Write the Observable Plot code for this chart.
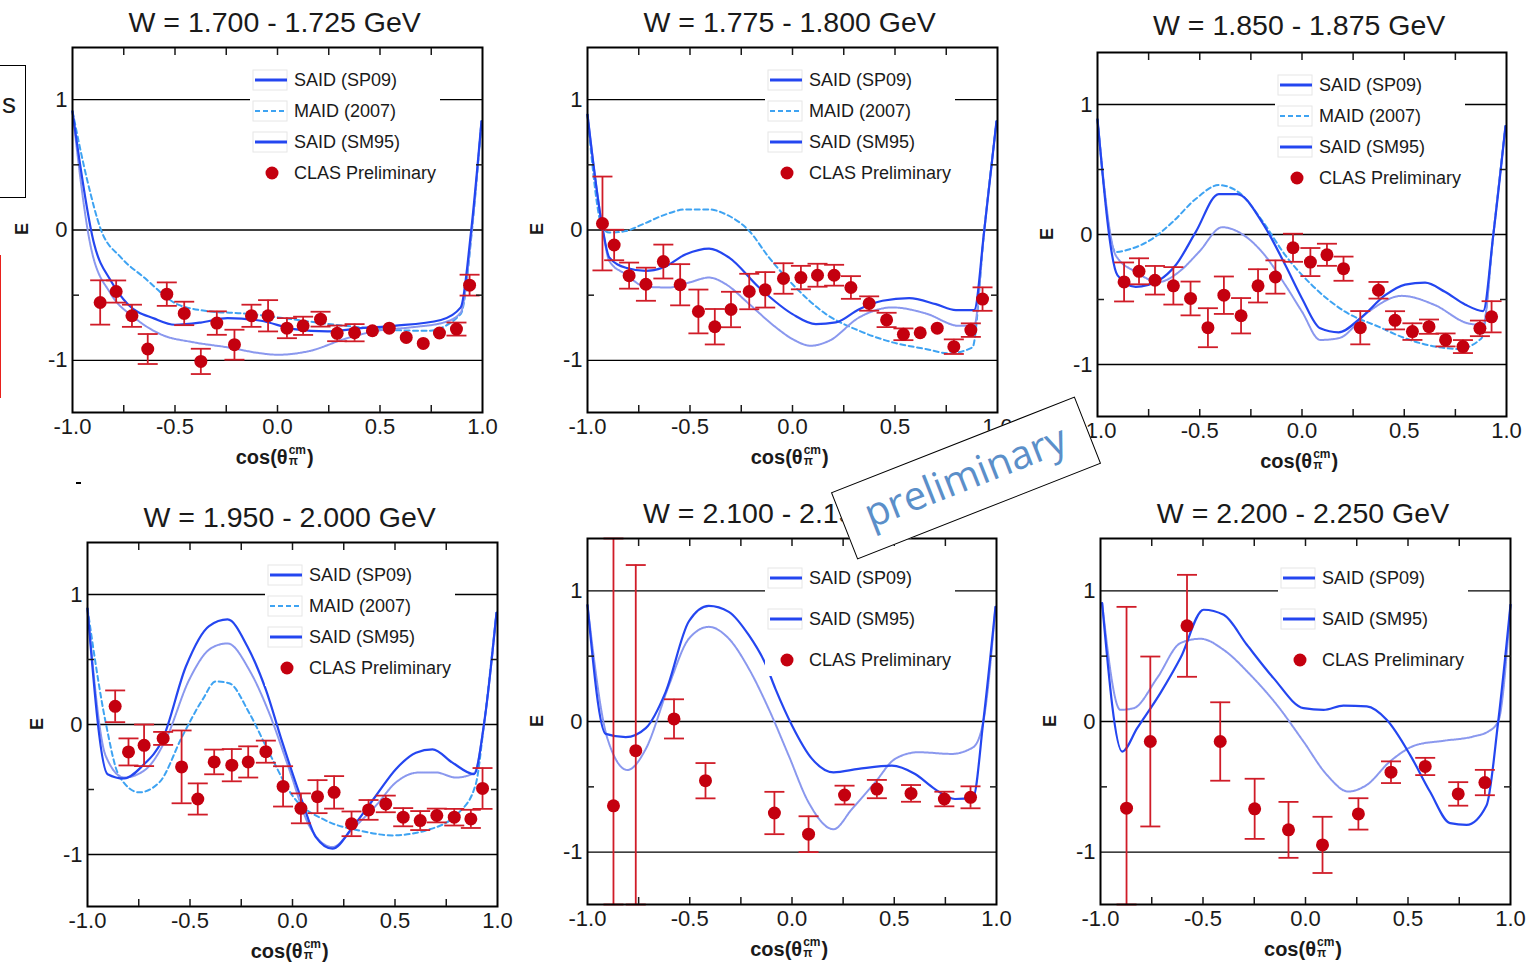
<!DOCTYPE html>
<html><head><meta charset="utf-8">
<script src="https://cdn.jsdelivr.net/npm/d3@7"></script>
<script src="https://cdn.jsdelivr.net/npm/@observablehq/plot@0.6"></script>
<style>
html,body{margin:0;padding:0;background:#fff;}
body{width:1536px;height:963px;overflow:hidden;position:relative;font-family:"Liberation Sans",Arial,sans-serif;color:#1a1a1a;}
.abs{position:absolute;}
.title{position:absolute;font-size:28.5px;white-space:nowrap;transform:translate(-50%,-50%);color:#1a1a1a;}
.elab{position:absolute;font-size:18px;font-weight:bold;transform:translate(-50%,-50%) rotate(-90deg);}
.xlab{position:absolute;font-size:20px;font-weight:bold;white-space:nowrap;transform:translate(-50%,-50%);}
.ss{display:inline-block;vertical-align:middle;line-height:0.95;font-size:12px;margin:0 1px;position:relative;top:-2px;}
.ss span{display:block;}
.stamp{position:absolute;width:262px;height:72px;border:1.5px solid #000;background:#fff;box-sizing:border-box;
  transform:translate(-50%,-50%) rotate(-21.5deg);font-family:"Open Sans",sans-serif;font-size:40px;color:#5b8fc9;
  text-align:center;line-height:64px;z-index:10;}
</style></head><body>
<script>
// ---------- data ----------
const titles = ["W = 1.700 - 1.725 GeV","W = 1.775 - 1.800 GeV","W = 1.850 - 1.875 GeV",
                "W = 1.950 - 2.000 GeV","W = 2.100 - 2.150 GeV","W = 2.200 - 2.250 GeV"];
const xTickLabels = [-1, -0.5, 0, 0.5, 1];
const yTickLabels = [-1, 0, 1];
const xMinorTicks = [-0.75, -0.5, -0.25, 0, 0.25, 0.5, 0.75];
const yMinorTicks = [-0.5, 0.5];
const legendFull = ["SAID (SP09)", "MAID (2007)", "SAID (SM95)", "CLAS Preliminary"];
const legendShort = ["SAID (SP09)", "SAID (SM95)", "CLAS Preliminary"];

// CLAS preliminary points: cos(theta), E, error
const clas1Cos = [-0.865,-0.787,-0.71,-0.633,-0.54,-0.455,-0.374,-0.296,-0.21,-0.127,-0.046,0.046,0.125,0.21,0.291,0.376,0.463,0.545,0.628,0.711,0.79,0.873,0.937];
const clas1E   = [-0.556,-0.472,-0.658,-0.913,-0.492,-0.64,-1.008,-0.714,-0.88,-0.658,-0.658,-0.753,-0.735,-0.684,-0.793,-0.788,-0.773,-0.753,-0.824,-0.87,-0.79,-0.76,-0.423];
const clas1Err = [0.17,0.085,0.085,0.115,0.09,0.09,0.097,0.09,0.115,0.085,0.12,0.077,0.07,0.057,0.06,0.066,0,0,0,0,0,0.05,0.08];

const clas2Cos = [-0.927,-0.87,-0.797,-0.715,-0.63,-0.548,-0.459,-0.379,-0.3,-0.211,-0.133,-0.044,0.041,0.122,0.203,0.285,0.374,0.459,0.541,0.623,0.706,0.787,0.87,0.927];
const clas2E   = [0.05,-0.115,-0.35,-0.416,-0.242,-0.42,-0.625,-0.742,-0.61,-0.472,-0.459,-0.372,-0.365,-0.347,-0.347,-0.441,-0.564,-0.69,-0.8,-0.788,-0.753,-0.895,-0.768,-0.53];
const clas2Err = [0.36,0.117,0.1,0.127,0.13,0.158,0.168,0.136,0.136,0.136,0.136,0.117,0.09,0.088,0.08,0.087,0.055,0.055,0.045,0,0,0.056,0.052,0.09];

const clas3Cos = [-0.87,-0.797,-0.719,-0.629,-0.545,-0.46,-0.382,-0.298,-0.215,-0.13,-0.044,0.041,0.122,0.203,0.285,0.374,0.455,0.54,0.621,0.702,0.787,0.87,0.927];
const clas3E   = [-0.365,-0.283,-0.352,-0.395,-0.492,-0.717,-0.467,-0.625,-0.395,-0.327,-0.102,-0.212,-0.156,-0.263,-0.717,-0.429,-0.66,-0.747,-0.709,-0.811,-0.862,-0.722,-0.633];
const clas3Err = [0.15,0.1,0.11,0.144,0.13,0.15,0.144,0.136,0.128,0.128,0.108,0.108,0.085,0.093,0.128,0.064,0.07,0.064,0.055,0.05,0.05,0.06,0.12];

const clas4Cos = [-0.865,-0.8,-0.724,-0.631,-0.541,-0.462,-0.382,-0.296,-0.216,-0.13,-0.046,0.041,0.122,0.203,0.288,0.371,0.455,0.54,0.623,0.704,0.789,0.87,0.927];
const clas4E   = [0.14,-0.211,-0.16,-0.107,-0.326,-0.573,-0.288,-0.313,-0.288,-0.209,-0.476,-0.645,-0.555,-0.522,-0.764,-0.657,-0.611,-0.713,-0.739,-0.7,-0.713,-0.726,-0.492];
const clas4Err = [0.122,0.104,0.16,0.05,0.28,0.12,0.095,0.124,0.12,0.085,0.155,0.115,0.127,0.125,0.095,0.076,0.064,0.07,0.073,0.053,0.064,0.07,0.157];

const clas5Cos = [-0.873,-0.764,-0.577,-0.423,-0.086,0.081,0.257,0.415,0.582,0.745,0.873];
const clas5E   = [-0.645,-0.223,0.02,-0.453,-0.7,-0.862,-0.563,-0.517,-0.55,-0.593,-0.58];
const clas5Err = [2.1,1.42,0.15,0.135,0.162,0.137,0.072,0.07,0.064,0.056,0.084];

const clas6Cos = [-0.873,-0.757,-0.578,-0.416,-0.248,-0.083,0.083,0.258,0.417,0.584,0.745,0.875];
const clas6E   = [-0.663,-0.153,0.732,-0.153,-0.668,-0.829,-0.944,-0.707,-0.388,-0.344,-0.554,-0.467];
const clas6Err = [1.54,0.65,0.39,0.3,0.23,0.214,0.215,0.12,0.083,0.066,0.09,0.097];

// model curves [cos, E]
const sp09_1 = [[-1,0.91],[-0.894,-0.11],[-0.813,-0.39],[-0.73,-0.57],[-0.6,-0.68],[-0.5,-0.727],[-0.374,-0.71],[-0.244,-0.676],[-0.081,-0.696],[0.081,-0.76],[0.244,-0.778],[0.407,-0.753],[0.569,-0.735],[0.797,-0.69],[0.894,-0.594],[0.943,-0.03],[0.995,0.834]];
const maid_1 = [[-1,0.91],[-0.927,0.375],[-0.862,0.005],[-0.764,-0.21],[-0.65,-0.365],[-0.488,-0.57],[-0.325,-0.625],[-0.163,-0.64],[0,-0.67],[0.244,-0.72],[0.407,-0.747],[0.569,-0.768],[0.732,-0.773],[0.894,-0.645],[0.95,0.018],[0.995,0.834]];
const sm95_1 = [[-1,0.91],[-0.91,-0.135],[-0.813,-0.49],[-0.7,-0.67],[-0.57,-0.8],[-0.407,-0.862],[-0.244,-0.9],[-0.081,-0.946],[0,-0.957],[0.163,-0.926],[0.325,-0.837],[0.488,-0.773],[0.65,-0.747],[0.813,-0.709],[0.894,-0.633],[0.946,-0.03],[0.995,0.834]];

const sp09_2 = [[-1,0.885],[-0.927,0.018],[-0.894,-0.21],[-0.813,-0.29],[-0.715,-0.314],[-0.634,-0.29],[-0.52,-0.186],[-0.407,-0.143],[-0.309,-0.212],[-0.163,-0.441],[0,-0.645],[0.114,-0.722],[0.211,-0.709],[0.325,-0.607],[0.439,-0.543],[0.569,-0.523],[0.699,-0.569],[0.797,-0.615],[0.886,-0.615],[0.935,-0.008],[0.995,0.834]];
const maid_2 = [[-1,0.885],[-0.927,0.018],[-0.894,-0.02],[-0.813,-0.008],[-0.732,0.043],[-0.618,0.12],[-0.52,0.158],[-0.407,0.158],[-0.325,0.12],[-0.211,-0.008],[-0.114,-0.212],[0,-0.416],[0.163,-0.645],[0.325,-0.773],[0.488,-0.862],[0.65,-0.913],[0.764,-0.946],[0.878,-0.9],[0.935,-0.008],[0.995,0.834]];
const sm95_2 = [[-1,0.885],[-0.927,0.018],[-0.894,-0.237],[-0.813,-0.34],[-0.715,-0.436],[-0.602,-0.441],[-0.504,-0.403],[-0.407,-0.365],[-0.325,-0.416],[-0.211,-0.569],[-0.081,-0.747],[0,-0.837],[0.089,-0.888],[0.179,-0.85],[0.325,-0.671],[0.488,-0.594],[0.65,-0.64],[0.813,-0.735],[0.886,-0.735],[0.935,-0.008],[0.995,0.834]];

const sp09_3 = [[-1,0.885],[-0.902,-0.314],[-0.813,-0.403],[-0.699,-0.352],[-0.618,-0.237],[-0.52,0.018],[-0.407,0.311],[-0.317,0.311],[-0.195,0.094],[-0.081,-0.237],[0,-0.492],[0.089,-0.722],[0.179,-0.753],[0.293,-0.633],[0.407,-0.467],[0.504,-0.385],[0.602,-0.37],[0.699,-0.441],[0.797,-0.538],[0.886,-0.589],[0.935,-0.008],[0.995,0.834]];
const maid_3 = [[-1,0.885],[-0.911,-0.135],[-0.846,-0.115],[-0.732,-0.033],[-0.634,0.094],[-0.52,0.273],[-0.407,0.38],[-0.309,0.324],[-0.195,0.107],[-0.081,-0.161],[0.049,-0.39],[0.211,-0.594],[0.374,-0.709],[0.504,-0.798],[0.65,-0.862],[0.764,-0.88],[0.878,-0.798],[0.935,-0.008],[0.995,0.834]];
const sm95_3 = [[-1,0.885],[-0.911,-0.16],[-0.813,-0.288],[-0.699,-0.365],[-0.602,-0.288],[-0.504,-0.135],[-0.39,0.056],[-0.309,0.018],[-0.195,-0.135],[-0.081,-0.39],[0,-0.594],[0.089,-0.811],[0.179,-0.798],[0.325,-0.594],[0.488,-0.472],[0.65,-0.543],[0.813,-0.684],[0.886,-0.696],[0.935,-0.008],[0.995,0.834]];

const sp09_4 = [[-1,0.892],[-0.902,-0.382],[-0.821,-0.415],[-0.732,-0.318],[-0.634,-0.115],[-0.52,0.446],[-0.407,0.757],[-0.317,0.808],[-0.22,0.6],[-0.13,0.268],[-0.049,-0.14],[0.049,-0.599],[0.114,-0.866],[0.195,-0.955],[0.293,-0.79],[0.407,-0.548],[0.504,-0.344],[0.602,-0.217],[0.683,-0.191],[0.78,-0.293],[0.886,-0.382],[0.935,0.013],[0.995,0.859]];
const maid_4 = [[-1,0.892],[-0.911,0.013],[-0.846,-0.395],[-0.748,-0.522],[-0.65,-0.446],[-0.537,-0.089],[-0.439,0.191],[-0.374,0.331],[-0.309,0.318],[-0.211,0.089],[-0.114,-0.217],[0,-0.548],[0.163,-0.739],[0.325,-0.815],[0.488,-0.853],[0.65,-0.815],[0.813,-0.675],[0.894,-0.459],[0.935,0.013],[0.995,0.859]];
const sm95_4 = [[-1,0.892],[-0.911,-0.242],[-0.821,-0.408],[-0.715,-0.344],[-0.618,-0.115],[-0.504,0.344],[-0.398,0.586],[-0.317,0.624],[-0.211,0.42],[-0.114,0.089],[-0.016,-0.344],[0.081,-0.777],[0.195,-0.943],[0.293,-0.803],[0.407,-0.624],[0.504,-0.446],[0.618,-0.369],[0.699,-0.369],[0.797,-0.408],[0.886,-0.375],[0.935,0.013],[0.995,0.859]];

const sp09_5 = [[-1,0.89],[-0.911,-0.095],[-0.813,-0.12],[-0.715,-0.051],[-0.618,0.225],[-0.504,0.767],[-0.407,0.885],[-0.309,0.839],[-0.211,0.66],[-0.13,0.442],[-0.081,0.25],[0,-0.03],[0.098,-0.286],[0.203,-0.389],[0.325,-0.363],[0.488,-0.338],[0.602,-0.402],[0.699,-0.517],[0.797,-0.593],[0.886,-0.58],[0.935,-0.005],[0.995,0.877]];
const sm95_5 = [[-1,0.89],[-0.902,-0.133],[-0.805,-0.371],[-0.715,-0.21],[-0.602,0.276],[-0.504,0.634],[-0.407,0.724],[-0.309,0.634],[-0.211,0.404],[-0.114,0.097],[-0.016,-0.261],[0.081,-0.619],[0.203,-0.824],[0.293,-0.67],[0.407,-0.465],[0.504,-0.286],[0.618,-0.235],[0.78,-0.248],[0.886,-0.197],[0.935,-0.005],[0.995,0.877]];

const sp09_6 = [[-0.992,0.906],[-0.894,-0.23],[-0.821,-0.051],[-0.708,0.217],[-0.61,0.485],[-0.497,0.855],[-0.399,0.816],[-0.286,0.587],[-0.156,0.332],[-0.01,0.102],[0.088,0.089],[0.185,0.122],[0.299,0.115],[0.396,0.013],[0.51,-0.255],[0.607,-0.536],[0.705,-0.778],[0.786,-0.791],[0.883,-0.643],[0.94,0],[1.0,0.893]];
const sm95_6 = [[-0.992,0.906],[-0.903,0.089],[-0.838,0.102],[-0.724,0.332],[-0.61,0.6],[-0.513,0.633],[-0.399,0.548],[-0.269,0.357],[-0.14,0.128],[-0.01,-0.153],[0.104,-0.408],[0.209,-0.536],[0.299,-0.485],[0.412,-0.306],[0.542,-0.179],[0.672,-0.148],[0.818,-0.115],[0.891,-0.077],[0.94,0],[1.0,0.893]];

const panels = [
  {cos: clas1Cos, E: clas1E, err: clas1Err, sp09: sp09_1, maid: maid_1, sm95: sm95_1},
  {cos: clas2Cos, E: clas2E, err: clas2Err, sp09: sp09_2, maid: maid_2, sm95: sm95_2},
  {cos: clas3Cos, E: clas3E, err: clas3Err, sp09: sp09_3, maid: maid_3, sm95: sm95_3},
  {cos: clas4Cos, E: clas4E, err: clas4Err, sp09: sp09_4, maid: maid_4, sm95: sm95_4},
  {cos: clas5Cos, E: clas5E, err: clas5Err, sp09: sp09_5, maid: null, sm95: sm95_5},
  {cos: clas6Cos, E: clas6E, err: clas6Err, sp09: sp09_6, maid: null, sm95: sm95_6},
];

// ---------- layout & style ----------
const layout = [
  {left: 71.7,  top: 46.7,  w: 410, h: 365, tdy: -25},
  {left: 586.7, top: 46.7,  w: 410, h: 365, tdy: -25},
  {left: 1096.7,top: 51.7,  w: 409, h: 364, tdy: -27},
  {left: 86.7,  top: 541.7, w: 410, h: 364, tdy: -25},
  {left: 586.7, top: 537.7, w: 409, h: 366, tdy: -25},
  {left: 1100,  top: 537.7, w: 410, h: 366, tdy: -25},
];
const M = {l: 72, r: 20, t: 10, b: 60};
const yDom = [-1.4, 1.4];
const C = {sp09: "#2446f0", maid: "#3ea3f2", sm95: "#8a98ee", pt: "#c4000f", bar: "#d01c28"};
const capSymbol = {draw(ctx, size) { const r = Math.sqrt(size / Math.PI); ctx.moveTo(-r, 0); ctx.lineTo(r, 0); }};

function el(tag, cls, css, html) {
  const e = document.createElement(tag);
  if (cls) e.className = cls;
  Object.assign(e.style, css || {});
  if (html != null) e.innerHTML = html;
  document.body.appendChild(e);
  return e;
}

panels.forEach((p, i) => {
  const L = layout[i];
  const pts = p.cos.map((c, j) => ({x: c, y: p.E[j], e: p.err[j]}));
  const bars = pts.filter(d => d.e > 0).map(d => ({
    x: d.x, lo: Math.max(d.y - d.e, yDom[0]), hi: Math.min(d.y + d.e, yDom[1])
  }));
  const line = (data, opts) => Plot.line(data, {x: d => d[0], y: d => d[1], curve: "monotone-x", ...opts});
  const marks = [
    Plot.gridY(yTickLabels, {stroke: "#000", strokeOpacity: 1, strokeWidth: 1.3}),
  ];
  if (p.maid) marks.push(line(p.maid, {stroke: C.maid, strokeWidth: 2, strokeDasharray: "5,3.5"}));
  marks.push(
    line(p.sm95, {stroke: C.sm95, strokeWidth: 2, strokeDasharray: "1.5,0.8"}),
    line(p.sp09, {stroke: C.sp09, strokeWidth: 2.2}),
    Plot.ruleX(bars, {x: "x", y1: "lo", y2: "hi", stroke: C.bar, strokeWidth: 1.8}),
    Plot.dot(bars, {x: "x", y: "lo", symbol: capSymbol, r: 10, fill: "none", stroke: C.bar, strokeWidth: 1.8}),
    Plot.dot(bars, {x: "x", y: "hi", symbol: capSymbol, r: 10, fill: "none", stroke: C.bar, strokeWidth: 1.8}),
    Plot.dot(pts, {x: "x", y: "y", r: 6.5, fill: C.pt, stroke: "none"}),
    Plot.frame({stroke: "#000", strokeWidth: 2}),
    Plot.axisX({anchor: "bottom", ticks: xTickLabels, tickSize: 0, tickPadding: 6, tickFormat: d => d.toFixed(1), label: null}),
    Plot.axisY({anchor: "left", ticks: yTickLabels, tickSize: 0, tickPadding: 5, tickFormat: d => String(d), label: null}),
    Plot.axisX({anchor: "bottom", ticks: xMinorTicks, tickSize: 7, dy: -7, strokeWidth: 1.5, tickFormat: () => "", label: null}),
    Plot.axisX({anchor: "top", ticks: xMinorTicks, tickSize: 7, dy: 7, strokeWidth: 1.5, tickFormat: () => "", label: null}),
    Plot.axisY({anchor: "left", ticks: yMinorTicks, tickSize: 7, dx: 7, strokeWidth: 1.5, tickFormat: () => "", label: null}),
    Plot.axisY({anchor: "right", ticks: yMinorTicks, tickSize: 7, dx: -7, strokeWidth: 1.5, tickFormat: () => "", label: null}),
  );
  const svg = Plot.plot({
    width: L.w + M.l + M.r, height: L.h + M.t + M.b,
    marginLeft: M.l, marginRight: M.r, marginTop: M.t, marginBottom: M.b,
    x: {domain: [-1, 1]}, y: {domain: yDom},
    style: {fontFamily: "Liberation Sans, Arial, sans-serif", fontSize: "22px", color: "#1a1a1a", background: "transparent", overflow: "visible"},
    marks
  });
  svg.style.position = "absolute";
  svg.style.left = (L.left - M.l) + "px";
  svg.style.top = (L.top - M.t) + "px";
  document.body.appendChild(svg);

  // title
  el("div", "title", {left: (L.left + L.w / 2 - 2) + "px", top: (L.top + L.tdy) + "px"}, titles[i]);
  // y label
  el("div", "elab", {left: (L.left - 50) + "px", top: (L.top + L.h / 2) + "px"}, "E");
  // x label
  el("div", "xlab", {left: (L.left + L.w / 2 - 2) + "px", top: (L.top + L.h + 46) + "px"},
     'cos(θ<span class="ss"><span>cm</span><span>π</span></span>)');

  // legend
  const items = p.maid ? legendFull : legendShort;
  const step = p.maid ? 31 : 41;
  const lgTop = p.maid ? 18 : 22;
  const lgH = p.maid ? 126 : 116;
  const lg = d3.select(document.body).append("svg")
    .attr("width", 190).attr("height", lgH)
    .style("position", "absolute").style("left", (L.left + 178) + "px").style("top", (L.top + lgTop) + "px")
    .style("font-family", "Liberation Sans, Arial, sans-serif").style("font-size", "18px");
  lg.append("rect").attr("width", 190).attr("height", lgH).attr("fill", "#fff");
  items.forEach((name, k) => {
    const cy = 15 + k * step + (p.maid ? 0 : 3);
    if (name.startsWith("CLAS")) {
      lg.append("circle").attr("cx", 22).attr("cy", cy).attr("r", 6.5).attr("fill", C.pt);
    } else {
      lg.append("rect").attr("x", 3).attr("y", cy - 10).attr("width", 34).attr("height", 20)
        .attr("fill", "none").attr("stroke", "#e6e6e6");
      const isMaid = name.startsWith("MAID");
      lg.append("line").attr("x1", 5).attr("x2", 37).attr("y1", cy).attr("y2", cy)
        .attr("stroke", isMaid ? C.maid : C.sp09).attr("stroke-width", isMaid ? 2.2 : 3)
        .attr("stroke-dasharray", isMaid ? "5,3" : null);
    }
    lg.append("text").attr("x", 44).attr("y", cy).attr("dy", "0.35em").attr("fill", "#1a1a1a").text(name);
  });
});

// slide artifacts on the left edge and the stamp
el("div", "abs", {left: "-200px", top: "65px", width: "226px", height: "133px", border: "1.5px solid #000", boxSizing: "border-box"});
el("div", "abs", {left: "2px", top: "88px", fontSize: "28px", fontFamily: "Liberation Sans, sans-serif"}, "s");
el("div", "abs", {left: "-100px", top: "255px", width: "101px", height: "143px", border: "2px solid #e8201c", boxSizing: "border-box"});
el("div", "abs", {left: "76px", top: "482px", width: "5px", height: "2px", background: "#000"});
el("div", "stamp", {left: "966px", top: "478px"}, "preliminary");
</script>
</body></html>
